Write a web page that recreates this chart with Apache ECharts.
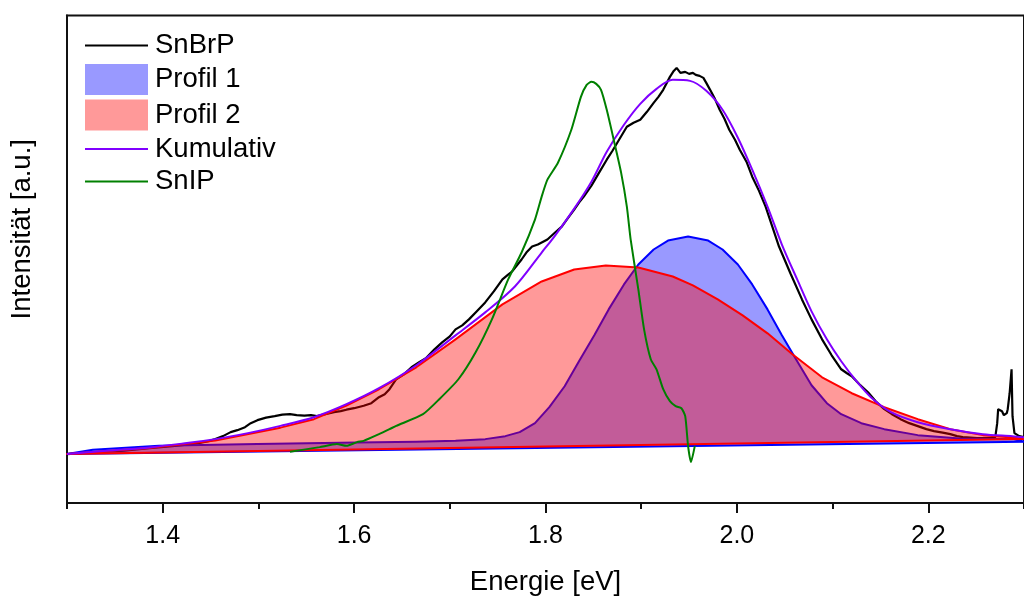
<!DOCTYPE html>
<html>
<head>
<meta charset="utf-8">
<script src="https://cdn.jsdelivr.net/npm/echarts@6/dist/echarts.min.js"></script>
<style>
html,body{margin:0;padding:0;background:#fff;}
#chart{width:1024px;height:601px;}
</style>
</head>
<body>
<div id="chart"></div>
<script>
// ---- data (energy in eV, intensity in arbitrary units) ----
const xTickLabels = [1.4, 1.6, 1.8, 2.0, 2.2];

const snbrpE = [1.300,1.330,1.360,1.386,1.410,1.430,1.440,1.448,1.455,1.463,1.471,1.478,1.486,1.492,1.499,1.508,1.517,1.525,1.533,1.540,1.548,1.555,1.561,1.570,1.579,1.586,1.592,1.600,1.610,1.618,1.626,1.632,1.637,1.644,1.652,1.660,1.668,1.675,1.684,1.692,1.700,1.706,1.713,1.720,1.728,1.737,1.746,1.755,1.760,1.765,1.770,1.775,1.780,1.786,1.792,1.796,1.802,1.810,1.817,1.823,1.830,1.835,1.840,1.848,1.856,1.864,1.870,1.875,1.880,1.885,1.892,1.899,1.906,1.913,1.918,1.923,1.930,1.934,1.937,1.941,1.946,1.950,1.954,1.957,1.961,1.965,1.968,1.972,1.977,1.982,1.987,1.992,1.998,2.003,2.010,2.016,2.023,2.030,2.037,2.044,2.056,2.068,2.078,2.089,2.099,2.109,2.115,2.120,2.128,2.137,2.145,2.154,2.162,2.171,2.180,2.189,2.198,2.206,2.215,2.223,2.230,2.236,2.244,2.251,2.258,2.265,2.270,2.272,2.273,2.275,2.277,2.279,2.280,2.282,2.283,2.285,2.287,2.288,2.290,2.295,2.300];
const snbrpI = [49,51,52.5,55,57,59,60.5,62,64,67,71,73,76,80,83,85.5,87,88.5,89,88,87.5,88,87,89,91,92,93.5,95,97.5,100,106,109,114,124,129,136,141,145,154,161,167,174,178,184,192,201,212,224,228,232,238,244,251,257,259,261,264,271,277,285,294,301,307,318,331,344,353,361,369,377,381,384,392,401,407,414,427,433,436,431,432,430,431,429,428,426,421,414,405,394,385,374,364,354,342,327,313,297,277,257,230,204,184,164,148,134,130,127,119,111,102,94,89,84,80,77,74,72,70.5,69,67,66,65.5,65,65,65,66,80,94,92,92,88,87,90,94,110,134,87,70,67,66];

const profil1E = [1.300,1.327,1.396,1.499,1.603,1.665,1.706,1.737,1.758,1.773,1.789,1.804,1.820,1.835,1.851,1.866,1.882,1.897,1.913,1.928,1.949,1.970,1.985,2.001,2.016,2.032,2.047,2.063,2.078,2.094,2.109,2.130,2.154,2.189,2.233,2.288,2.300];
const profil1I = [49,53.3,57.3,59,60.7,61.5,62.3,64,67,71,80,96,117,142,168,194,219,239,254,263,267,263,254,239,219,194,168,142,118,100,89,80,74,68,64.7,64,61.5];

const profil2E = [1.300,1.386,1.455,1.523,1.558,1.592,1.626,1.665,1.706,1.755,1.796,1.830,1.863,1.897,1.933,1.954,1.980,2.006,2.032,2.058,2.089,2.120,2.154,2.189,2.223,2.257,2.288,2.300];
const profil2I = [49,55,62.5,75.5,84,97.5,114,136,164,199,222,234,238,236,227,218,204,188,170,149,126,110,96,84,74,68,65.7,64.2];

const kumulE = [1.300,1.344,1.386,1.420,1.455,1.489,1.523,1.558,1.592,1.626,1.665,1.706,1.737,1.768,1.796,1.810,1.830,1.848,1.864,1.882,1.899,1.916,1.933,1.951,1.968,1.985,2.001,2.016,2.032,2.047,2.063,2.078,2.094,2.109,2.125,2.140,2.161,2.189,2.223,2.257,2.288,2.300];
const kumulI = [49,52.5,55.7,59.5,64,70,77.3,86,99,115,138,168,191,217,251,268,295,322,352,379,400,415,424,423,413,394,366,334,297,259,224,192,164,142,122,106,91,81,74,69,67,66];

const snipE = [1.533,1.564,1.582,1.592,1.603,1.610,1.626,1.637,1.644,1.672,1.689,1.709,1.727,1.744,1.761,1.775,1.789,1.796,1.802,1.813,1.827,1.837,1.843,1.848,1.853,1.858,1.864,1.872,1.879,1.885,1.889,1.897,1.903,1.910,1.916,1.923,1.930,1.936,1.942,1.946,1.949,1.952,1.956];
const snipI = [51.3,56,59,57.3,61,62.3,69,74,77.3,89,104,124,151,184,224,251,284,307,324,341,374,407,419,422,420,414,394,361,331,297,264,214,174,144,134,114,102,97,95,87,57,41,57];

const pairs = (xs, ys) => xs.map((x, i) => [x, ys[i]]);
const FONT = "'Liberation Sans', Arial, sans-serif";

function polygonRenderer(points, fill, stroke) {
  return function (params, api) {
    if (params.dataIndex !== 0) return null;
    const pts = points.map(p => api.coord(p));
    return {
      type: 'polygon',
      shape: { points: pts, smooth: 0 },
      style: { fill: fill, stroke: stroke, lineWidth: 2, lineJoin: 'round' }
    };
  };
}

const p1 = pairs(profil1E, profil1I);
const p2 = pairs(profil2E, profil2I);
const hiddenSymbol = { color: 'rgba(0,0,0,0)', borderColor: 'rgba(0,0,0,0)', borderWidth: 0, opacity: 0 };

const chart = echarts.init(document.getElementById('chart'));
chart.setOption({
  animation: false,
  backgroundColor: '#fff',
  grid: { left: 67, top: 15.5, right: -10, bottom: 97, show: true, borderColor: '#111', borderWidth: 2 },
  legend: {
    orient: 'vertical', left: 84, top: 31.5, padding: 0,
    itemWidth: 63, itemHeight: 31, itemGap: 4.5,
    textStyle: { fontFamily: FONT, fontSize: 27.5, color: '#000', padding: [0, 0, 0, 2] },
    data: [
      { name: 'SnBrP', itemStyle: hiddenSymbol },
      { name: 'Profil 1', icon: 'rect', itemStyle: { color: 'rgba(0,0,255,0.4)', borderWidth: 0 } },
      { name: 'Profil 2', icon: 'rect', itemStyle: { color: 'rgba(255,0,0,0.4)', borderWidth: 0 } },
      { name: 'Kumulativ', itemStyle: hiddenSymbol },
      { name: 'SnIP', itemStyle: hiddenSymbol }
    ]
  },
  xAxis: [
    {
      type: 'value', min: 1.3, max: 2.3,
      name: 'Energie [eV]', nameLocation: 'middle', nameGap: 65,
      nameTextStyle: { fontFamily: FONT, fontSize: 27.5, color: '#000' },
      axisLine: { show: true, lineStyle: { color: '#111', width: 2 } },
      axisTick: { show: true, customValues: xTickLabels, length: 10, lineStyle: { color: '#111', width: 2 } },
      axisLabel: { customValues: xTickLabels, margin: 21, fontFamily: FONT, fontSize: 25, color: '#000',
                   formatter: v => v.toFixed(1) },
      splitLine: { show: false }
    },
    {
      type: 'value', min: 1.3, max: 2.3, interval: 0.1, position: 'bottom',
      axisLine: { show: false },
      axisTick: { show: true, length: 6, lineStyle: { color: '#111', width: 2 } },
      axisLabel: { show: false },
      splitLine: { show: false }
    }
  ],
  yAxis: {
    type: 'value', min: 0, max: 488.5,
    name: 'Intensität [a.u.]', nameLocation: 'middle', nameGap: 31, nameRotate: 90,
    nameTextStyle: { fontFamily: FONT, fontSize: 27.5, color: '#000', padding: [0, 0, 0, 60] },
    axisLine: { show: true, lineStyle: { color: '#111', width: 2 } },
    axisTick: { show: false }, axisLabel: { show: false }, splitLine: { show: false }
  },
  series: [
    { name: 'SnBrP', type: 'line', z: 1, symbol: 'none', data: pairs(snbrpE, snbrpI),
      lineStyle: { color: '#000', width: 2.2 }, itemStyle: { color: '#000' } },
    { name: 'Profil 1', type: 'custom', z: 2, data: p1,
      itemStyle: { color: 'rgba(0,0,255,0.4)' },
      renderItem: polygonRenderer(p1, 'rgba(0,0,255,0.4)', '#0000ff') },
    { name: 'Profil 2', type: 'custom', z: 3, data: p2,
      itemStyle: { color: 'rgba(255,0,0,0.4)' },
      renderItem: polygonRenderer(p2, 'rgba(255,0,0,0.4)', '#ff0000') },
    { name: 'Kumulativ', type: 'line', z: 4, symbol: 'none', smooth: 0.3, data: pairs(kumulE, kumulI),
      lineStyle: { color: '#8000ff', width: 2 }, itemStyle: { color: '#8000ff' } },
    { name: 'SnIP', type: 'line', z: 5, symbol: 'none', smooth: 0.2, data: pairs(snipE, snipI),
      lineStyle: { color: '#008000', width: 2 }, itemStyle: { color: '#008000' } }
  ]
});
</script>
</body>
</html>
